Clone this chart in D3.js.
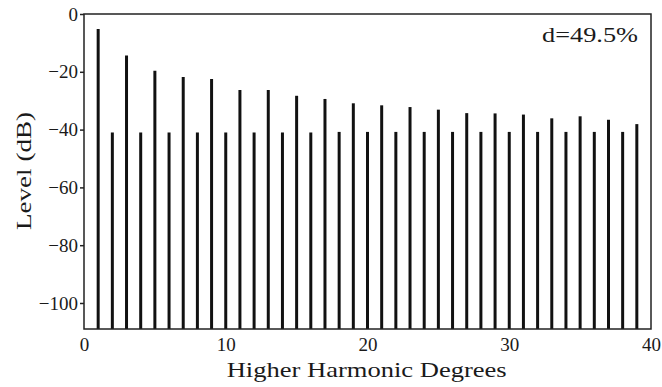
<!DOCTYPE html>
<html>
<head>
<meta charset="utf-8">
<script src="https://cdn.jsdelivr.net/npm/d3@7"></script>
<style>
  html, body { margin: 0; padding: 0; background: #fff; }
  svg { display: block; }
</style>
</head>
<body>
<svg id="chart" width="662" height="387"></svg>
<script>
// Harmonic orders (x) and levels in dB (y)
const harmonics = [1,2,3,4,5,6,7,8,9,10,11,12,13,14,15,16,17,18,19,20,
                   21,22,23,24,25,26,27,28,29,30,31,32,33,34,35,36,37,38,39];
const levels = [-5.2,-41,-14.4,-41,-19.6,-41,-21.8,-41,-22.5,-41,
                -26.3,-41,-26.3,-41,-28.3,-41,-29.4,-40.8,-30.9,-40.8,
                -31.6,-40.8,-32.2,-40.8,-33.1,-40.8,-34.3,-40.8,-34.4,-40.8,
                -34.8,-40.8,-36.1,-40.8,-35.4,-40.8,-36.6,-40.8,-38.1];
const xTicks = [0, 10, 20, 30, 40];
const yTicks = [0, -20, -40, -60, -80, -100];
const xDomain = [0, 40];
const yDomain = [-109, 0];
const xLabel = "Higher Harmonic Degrees";
const yLabel = "Level (dB)";
const annotation = "d=49.5%";

const svg = d3.select("#chart");
const mLeft = 84, mRight = 651, mTop = 14, mBottom = 329;
const serif = '"Liberation Serif", "Times New Roman", Times, serif';
const ink = "#1a1a1a";

const x = d3.scaleLinear().domain(xDomain).range([mLeft, mRight]);
const y = d3.scaleLinear().domain(yDomain).range([mBottom, mTop]);

// bars
svg.append("g").selectAll("line")
  .data(harmonics.map((h, i) => ({h, v: levels[i]})))
  .join("line")
  .attr("x1", d => x(d.h)).attr("x2", d => x(d.h))
  .attr("y1", y(yDomain[0])).attr("y2", d => y(d.v))
  .attr("stroke", "#111").attr("stroke-width", 3);

// frame
svg.append("rect")
  .attr("x", mLeft).attr("y", mTop)
  .attr("width", mRight - mLeft).attr("height", mBottom - mTop)
  .attr("fill", "none").attr("stroke", "#222").attr("stroke-width", 1.5);

// y axis
const yAxis = d3.axisLeft(y).tickValues(yTicks).tickSize(4).tickPadding(2)
  .tickFormat(d => d === 0 ? "0" : "\u2212" + Math.abs(d));
const gy = svg.append("g").attr("transform", `translate(${mLeft},0)`).call(yAxis)
  .attr("font-family", serif).attr("font-size", 19);
gy.select(".domain").remove();
gy.selectAll(".tick line").attr("stroke", "#222").attr("stroke-width", 1.5);
gy.selectAll(".tick text").attr("fill", ink);

// x axis (labels only)
const xAxis = d3.axisBottom(x).tickValues(xTicks).tickSize(0).tickPadding(9)
  .tickFormat(d3.format("d"));
const gx = svg.append("g").attr("transform", `translate(0,${mBottom})`).call(xAxis)
  .attr("font-family", serif).attr("font-size", 19);
gx.select(".domain").remove();
gx.selectAll(".tick text").attr("fill", ink);

// axis titles
svg.append("text")
  .attr("x", 366.7).attr("y", 377)
  .attr("text-anchor", "middle").attr("fill", ink)
  .attr("font-family", serif).attr("font-size", 21)
  .attr("textLength", 280).attr("lengthAdjust", "spacingAndGlyphs")
  .text(xLabel);

svg.append("text")
  .attr("transform", "translate(31,171) rotate(-90)")
  .attr("text-anchor", "middle").attr("fill", ink)
  .attr("font-family", serif).attr("font-size", 21)
  .attr("textLength", 118).attr("lengthAdjust", "spacingAndGlyphs")
  .text(yLabel);

// annotation
svg.append("text")
  .attr("x", 542).attr("y", 41.5).attr("fill", ink)
  .attr("font-family", serif).attr("font-size", 21)
  .attr("textLength", 96).attr("lengthAdjust", "spacingAndGlyphs")
  .text(annotation);
</script>
</body>
</html>
